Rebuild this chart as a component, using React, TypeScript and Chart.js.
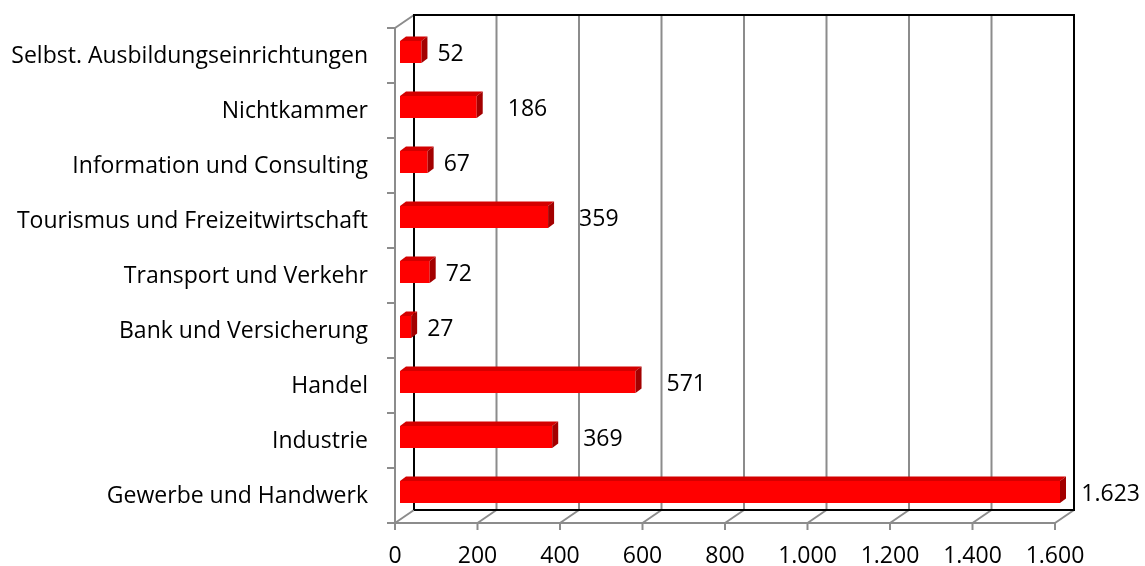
import React, { useEffect, useRef } from "react";
import { Chart, registerables } from "chart.js";

Chart.register(...registerables);

const categories = [
  "Selbst. Ausbildungseinrichtungen",
  "Nichtkammer",
  "Information und Consulting",
  "Tourismus und Freizeitwirtschaft",
  "Transport und Verkehr",
  "Bank und Versicherung",
  "Handel",
  "Industrie",
  "Gewerbe und Handwerk",
];
const values = [52, 186, 67, 359, 72, 27, 571, 369, 1623];
const axisMin = 0;
const axisMax = 1600;
const axisStep = 200;

const FONT = "'Open Sans', sans-serif";
const FONT_SIZE = 23;

function fmt(v: number): string {
  const s = Math.round(v).toString();
  return s.replace(/\B(?=(\d{3})+(?!\d))/g, ".");
}

const FRONT_SHIFT_X = -5; // front frame vs bar start
const FRONT_SHIFT_Y = 3.5;
const WALL_DX = 19;
const WALL_DY = 13;
const BAR_DX = 6;
const BAR_DY = 4.5;

const frame3d = {
  id: "frame3d",
  beforeDatasetsDraw(chart: any) {
    const { ctx, chartArea } = chart;
    const xs = chart.scales.x;
    const fx = (v: number) => xs.getPixelForValue(v) + FRONT_SHIFT_X;
    const fTop = chartArea.top + FRONT_SHIFT_Y;
    const fBot = chartArea.bottom + FRONT_SHIFT_Y;
    const bTop = fTop - WALL_DY;
    const bBot = fBot - WALL_DY;
    const bx = (v: number) => fx(v) + WALL_DX;
    const gray = "#8c8c8c";
    ctx.save();
    ctx.lineCap = "butt";
    ctx.lineWidth = 2;
    ctx.strokeStyle = gray;
    xs.ticks.forEach((t: any) => {
      ctx.beginPath();
      ctx.moveTo(bx(t.value), bTop);
      ctx.lineTo(bx(t.value), bBot);
      ctx.stroke();
    });
    ctx.beginPath();
    ctx.moveTo(fx(axisMin), fBot);
    ctx.lineTo(fx(axisMax), fBot);
    ctx.stroke();
    xs.ticks.forEach((t: any) => {
      ctx.beginPath();
      ctx.moveTo(fx(t.value), fBot);
      ctx.lineTo(bx(t.value), bBot);
      ctx.stroke();
      ctx.beginPath();
      ctx.moveTo(fx(t.value), fBot);
      ctx.lineTo(fx(t.value), fBot + 7);
      ctx.stroke();
    });
    ctx.beginPath();
    ctx.moveTo(fx(axisMin), fTop);
    ctx.lineTo(fx(axisMin), fBot);
    ctx.stroke();
    ctx.beginPath();
    ctx.moveTo(fx(axisMin), fTop);
    ctx.lineTo(bx(axisMin), bTop);
    ctx.stroke();
    const n = categories.length;
    for (let i = 0; i <= n; i++) {
      const y = fTop + ((fBot - fTop) * i) / n;
      ctx.beginPath();
      ctx.moveTo(fx(axisMin) - 8, y);
      ctx.lineTo(fx(axisMin), y);
      ctx.stroke();
    }
    ctx.strokeStyle = "#000000";
    ctx.beginPath();
    ctx.moveTo(bx(axisMin), bBot);
    ctx.lineTo(bx(axisMin), bTop);
    ctx.lineTo(bx(axisMax), bTop);
    ctx.lineTo(bx(axisMax), bBot);
    ctx.lineTo(bx(axisMin), bBot);
    ctx.stroke();
    ctx.restore();
  },
  afterDatasetsDraw(chart: any) {
    const { ctx, chartArea } = chart;
    const meta = chart.getDatasetMeta(0);
    ctx.save();
    meta.data.forEach((bar: any, i: number) => {
      const p = bar.getProps(["x", "y", "base", "height"], true);
      const xEnd = Math.min(p.x, chartArea.right);
      const x0 = p.base;
      const yT = p.y - p.height / 2;
      const yB = p.y + p.height / 2;
      ctx.fillStyle = "#d40000";
      ctx.beginPath();
      ctx.moveTo(x0, yT);
      ctx.lineTo(x0 + BAR_DX, yT - BAR_DY);
      ctx.lineTo(xEnd + BAR_DX, yT - BAR_DY);
      ctx.lineTo(xEnd, yT);
      ctx.closePath();
      ctx.fill();
      ctx.fillStyle = "#a30000";
      ctx.beginPath();
      ctx.moveTo(xEnd, yT);
      ctx.lineTo(xEnd + BAR_DX, yT - BAR_DY);
      ctx.lineTo(xEnd + BAR_DX, yB - BAR_DY);
      ctx.lineTo(xEnd, yB);
      ctx.closePath();
      ctx.fill();
      const v = values[i];
      const text = fmt(v);
      ctx.font = `${FONT_SIZE}px ${FONT}`;
      ctx.fillStyle = "#000000";
      ctx.textAlign = "left";
      ctx.textBaseline = "middle";
      const w = ctx.measureText(text).width;
      let lx = xEnd + BAR_DX + (v < 100 ? 10 : 25);
      lx = Math.min(lx, chart.width - w - 5);
      ctx.fillText(text, lx, p.y + 2);
    });
    ctx.restore();
  },
};

export default function App() {
  const ref = useRef<HTMLCanvasElement | null>(null);
  useEffect(() => {
    if (!ref.current) return;
    const chart = new Chart(ref.current, {
      type: "bar",
      data: {
        labels: categories,
        datasets: [
          {
            data: values,
            backgroundColor: "#ff0000",
            borderWidth: 0,
            categoryPercentage: 0.4,
            barPercentage: 1,
          },
        ],
      },
      options: {
        indexAxis: "y",
        animation: false,
        responsive: true,
        maintainAspectRatio: false,
        layout: { padding: { left: 0, right: 85, top: 24.5, bottom: 0 } },
        plugins: { legend: { display: false }, tooltip: { enabled: false } },
        scales: {
          x: {
            min: axisMin,
            max: axisMax,
            grid: { display: false, drawTicks: true, tickLength: 23 },
            border: { display: false },
            ticks: {
              stepSize: axisStep,
              labelOffset: FRONT_SHIFT_X,
              padding: 0,
              color: "#000000",
              font: { family: FONT, size: FONT_SIZE },
              maxRotation: 0,
              autoSkip: false,
              callback: (v: any) => fmt(Number(v)),
            },
            afterFit: (s: any) => {
              s.height = 46.5;
            },
          },
          y: {
            grid: { display: false, drawTicks: true, tickLength: 32 },
            border: { display: false },
            ticks: {
              padding: 0,
              labelOffset: FRONT_SHIFT_Y + 1,
              color: "#000000",
              font: { family: FONT, size: FONT_SIZE },
              autoSkip: false,
            },
            afterFit: (s: any) => {
              s.width = 400;
            },
          },
        },
      },
      plugins: [frame3d],
    });
    return () => chart.destroy();
  }, []);
  return (
    <div style={{ position: "absolute", left: 0, top: 0, width: 1145, height: 566, background: "#ffffff" }}>
      <canvas ref={ref} />
    </div>
  );
}
